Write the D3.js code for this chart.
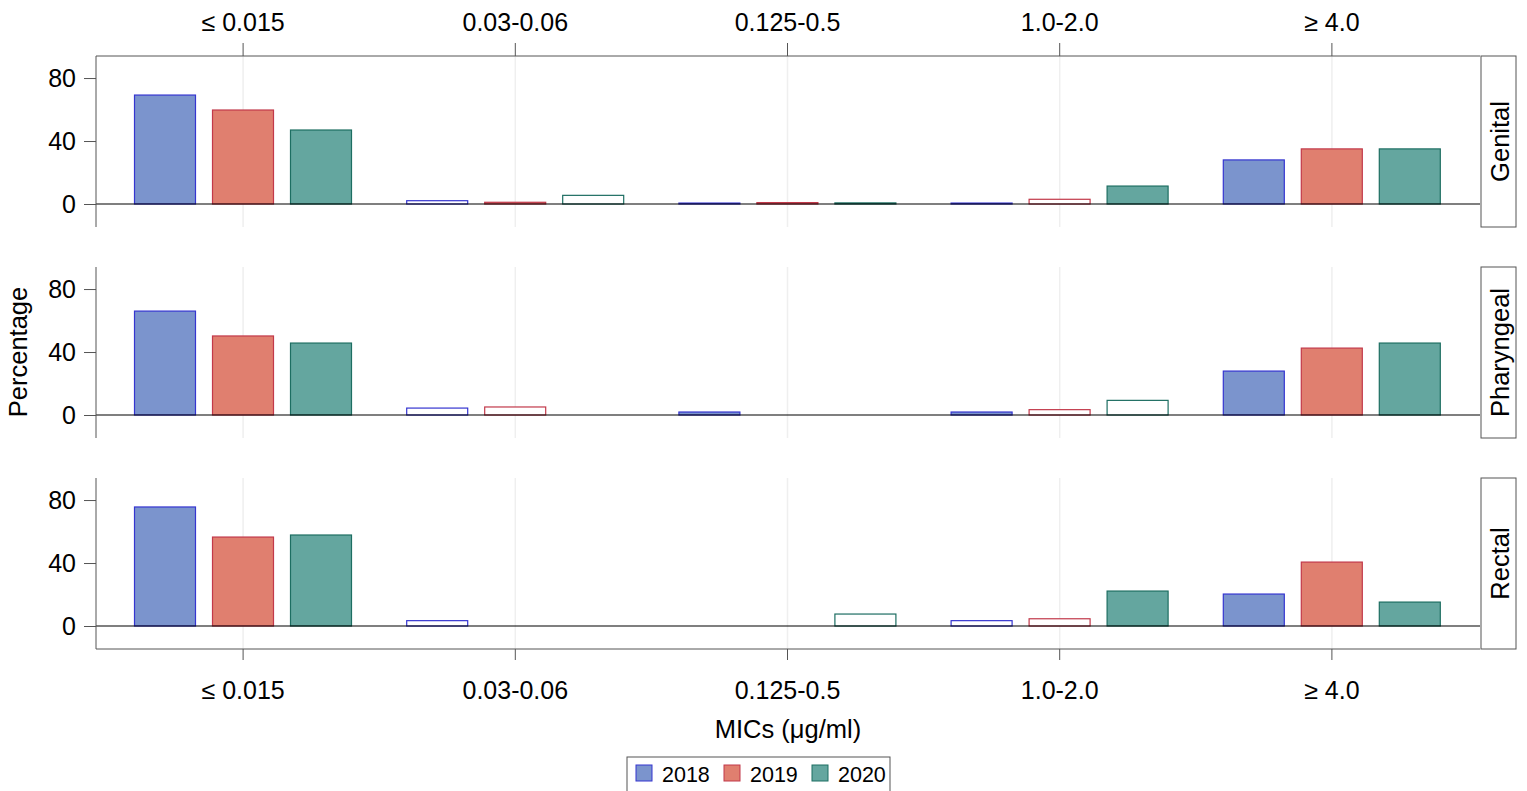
<!DOCTYPE html>
<html><head><meta charset="utf-8">
<script src="https://cdn.jsdelivr.net/npm/d3@7"></script>
<style>body{margin:0;background:#fff;} text{font-family:"Liberation Sans",Arial,sans-serif;}</style>
</head><body><svg id="c" width="1527" height="791"></svg>
<script>
const categories = ["≤ 0.015","0.03-0.06","0.125-0.5","1.0-2.0","≥ 4.0"];
const years = ["2018","2019","2020"];
const sites = ["Genital","Pharyngeal","Rectal"];
const yTicks = [0,40,80];
// values[site][year][category]
const genital2018 = [69.2, 2.1, 0.6, 0.6, 28.0];
const genital2019 = [59.7, 1.1, 0.9, 3.0, 35.0];
const genital2020 = [47.0, 5.5, 0.7, 11.4, 35.0];
const pharyngeal2018 = [66.0, 4.4, 1.9, 1.9, 27.9];
const pharyngeal2019 = [50.2, 5.1, 0, 3.4, 42.5];
const pharyngeal2020 = [45.7, 0, 0, 9.3, 45.7];
const rectal2018 = [75.6, 3.4, 0, 3.4, 20.3];
const rectal2019 = [56.5, 0, 0, 4.6, 40.6];
const rectal2020 = [57.8, 0, 7.6, 22.2, 15.2];
// bars drawn as outline only (1 = hollow)
const genitalHollow = [[0,1,0,0,0],[0,0,0,1,0],[0,1,0,0,0]];
const pharyngealHollow = [[0,1,0,0,0],[0,1,0,1,0],[0,0,0,1,0]];
const rectalHollow = [[0,1,0,1,0],[0,0,0,1,0],[0,0,1,0,0]];

const values = [[genital2018,genital2019,genital2020],[pharyngeal2018,pharyngeal2019,pharyngeal2020],[rectal2018,rectal2019,rectal2020]];
const hollow = [genitalHollow, pharyngealHollow, rectalHollow];
const fills = ["#7b94cd","#e07f6f","#64a69f"];
const strokes = ["#3535d0","#c2394a","#1d6e62"];

const svg = d3.select("#c");
const left = 96, right = 1480;
const panelTops = [56, 267, 478], panelH = 171;
const x = d3.scaleBand().domain(categories).range([107, 1468]).padding(0);
const xYear = d3.scaleBand().domain(years).range([27, 245]).paddingInner(16/78);
const font = '"Liberation Sans",Arial,sans-serif';

sites.forEach((site, si) => {
  const top = panelTops[si], bot = top + panelH;
  const y = d3.scaleLinear().domain([-14.6, 94]).range([bot, top]);
  const g = svg.append("g");
  // gridlines
  g.selectAll(".grid").data(categories).enter().append("line")
    .attr("x1", d => x(d) + x.bandwidth()/2).attr("x2", d => x(d) + x.bandwidth()/2)
    .attr("y1", top).attr("y2", bot).attr("stroke", "#efefef").attr("stroke-width", 1.5);
  // bars
  years.forEach((yr, yi) => {
    const data = categories.map((c, ci) => ({c, v: values[si][yi][ci], h: hollow[si][yi][ci]})).filter(d => d.v > 0);
    g.selectAll(".b" + yi).data(data).enter().append("rect")
      .attr("x", d => x(d.c) + xYear(yr) + 0.5)
      .attr("width", xYear.bandwidth() - 1)
      .attr("y", d => y(d.v))
      .attr("height", d => y(0) - y(d.v))
      .attr("fill", d => d.h ? "#fff" : fills[yi])
      .attr("stroke", strokes[yi]).attr("stroke-width", 1.2);
  });
  // zero line
  g.append("line").attr("x1", left).attr("x2", right).attr("y1", y(0)).attr("y2", y(0))
    .attr("stroke", "#000").attr("stroke-width", 1.2);
  // y axis
  const ya = g.append("g").attr("transform", `translate(${left},0)`)
    .call(d3.axisLeft(y).tickValues(yTicks).tickSize(12).tickPadding(8).tickFormat(d3.format("d")));
  ya.select(".domain").attr("d", `M0,${top}V${bot}`).attr("stroke", "#555");
  ya.selectAll(".tick line").attr("stroke", "#555");
  ya.selectAll("text").attr("font-size", 25).attr("font-family", font).attr("fill", "#000");
  // strip
  g.append("rect").attr("x", 1481).attr("y", top).attr("width", 35).attr("height", panelH)
    .attr("fill", "#fff").attr("stroke", "#555").attr("stroke-width", 1);
  g.append("text").attr("transform", `translate(${1509},${top + panelH/2}) rotate(-90)`)
    .attr("text-anchor", "middle").attr("font-size", 25.5).attr("fill", "#000").text(site);
});

// top axis
const xt = svg.append("g").attr("transform", `translate(0,${panelTops[0]})`)
  .call(d3.axisTop(x).tickSize(13).tickPadding(12));
xt.select(".domain").attr("d", `M${left},0H${right}`).attr("stroke", "#555");
xt.selectAll(".tick line").attr("stroke", "#555");
xt.selectAll("text").attr("font-size", 25).attr("font-family", font).attr("fill", "#000");

// bottom axis
const bY = panelTops[2] + panelH;
const xb = svg.append("g").attr("transform", `translate(0,${bY})`)
  .call(d3.axisBottom(x).tickSize(11).tickPadding(21));
xb.select(".domain").attr("d", `M${left},0H${right}`).attr("stroke", "#555");
xb.selectAll(".tick line").attr("stroke", "#555");
xb.selectAll("text").attr("font-size", 25).attr("font-family", font).attr("fill", "#000");

// titles
svg.append("text").attr("x", 788).attr("y", 738).attr("text-anchor", "middle")
  .attr("font-size", 25.5).text("MICs (μg/ml)");
svg.append("text").attr("transform", "translate(27,352) rotate(-90)").attr("text-anchor", "middle")
  .attr("font-size", 25.5).text("Percentage");

// legend
const lg = svg.append("g");
lg.append("rect").attr("x", 627).attr("y", 757).attr("width", 263).attr("height", 40)
  .attr("fill", "#fff").attr("stroke", "#555");
const lx = [636, 724, 812];
years.forEach((yr, i) => {
  lg.append("rect").attr("x", lx[i]).attr("y", 765).attr("width", 16).attr("height", 16)
    .attr("fill", fills[i]).attr("stroke", strokes[i]);
  lg.append("text").attr("x", lx[i] + 26).attr("y", 782).attr("font-size", 21.5).text(yr);
});
</script></body></html>
